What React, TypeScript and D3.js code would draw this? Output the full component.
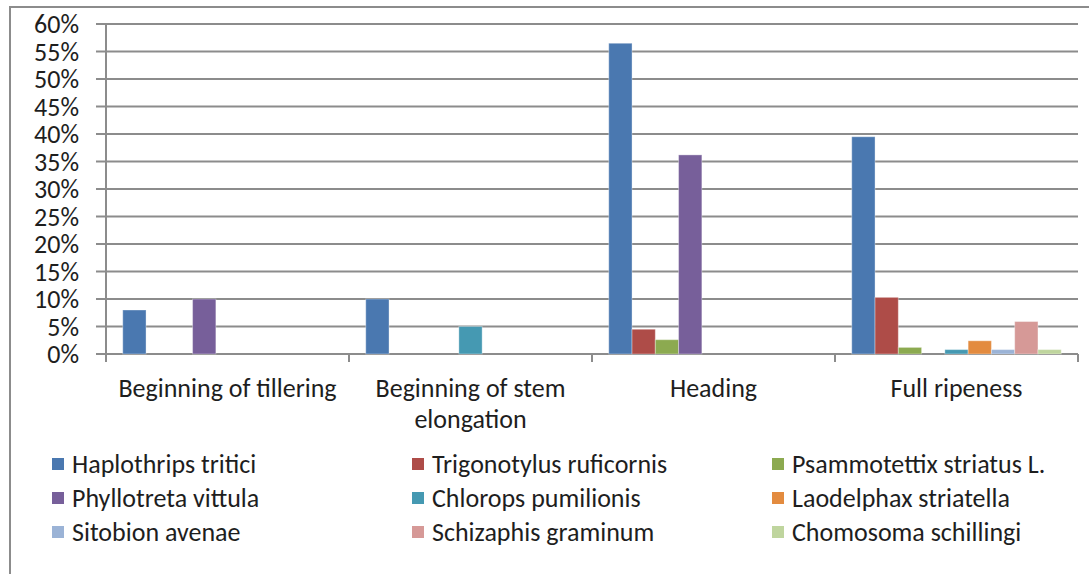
import React from "react";
import * as d3 from "d3";

// Growth stages (x categories)
const stages: string[][] = [
  ["Beginning of tillering"],
  ["Beginning of stem", "elongation"],
  ["Heading"],
  ["Full ripeness"],
];

// Species names and shares (%) per stage
const species: string[] = [
  "Haplothrips tritici",
  "Trigonotylus ruficornis",
  "Psammotettix striatus L.",
  "Phyllotreta vittula",
  "Chlorops pumilionis",
  "Laodelphax striatella",
  "Sitobion avenae",
  "Schizaphis graminum",
  "Chomosoma schillingi",
];

const haplothrips = [8, 10, 56.5, 39.5];
const trigonotylus = [0, 0, 4.5, 10.3];
const psammotettix = [0, 0, 2.6, 1.2];
const phyllotreta = [10, 0, 36.2, 0];
const chlorops = [0, 5, 0, 0.8];
const laodelphax = [0, 0, 0, 2.4];
const sitobion = [0, 0, 0, 0.8];
const schizaphis = [0, 0, 0, 5.9];
const chomosoma = [0, 0, 0, 0.8];

const seriesValues: number[][] = [
  haplothrips,
  trigonotylus,
  psammotettix,
  phyllotreta,
  chlorops,
  laodelphax,
  sitobion,
  schizaphis,
  chomosoma,
];

const yTicks = [0, 5, 10, 15, 20, 25, 30, 35, 40, 45, 50, 55, 60];

const colors = [
  "#4a78b0",
  "#ae4c48",
  "#8caa50",
  "#775f9a",
  "#4599b2",
  "#e38b3f",
  "#9bb3d6",
  "#d69997",
  "#bfd59e",
];

const W = 1089;
const H = 574;
const FONT = "Carlito, Calibri, 'Open Sans', sans-serif";
const FS = 26;
const TEXT = "#1e1e1e";
const GRID = "#8c8c8c";

export default function App() {
  const left = 106;
  const right = 1078;
  const top = 24;
  const bottom = 354;

  const stageKeys = stages.map((s) => s.join(" "));
  const x = d3.scaleBand<string>().domain(stageKeys).range([left, right]).padding(0);
  const xInner = d3
    .scaleBand<string>()
    .domain(species)
    .range([0, x.bandwidth()])
    .paddingInner(0)
    .paddingOuter(0.72);
  const y = d3.scaleLinear().domain([0, 60]).range([bottom, top]);

  const legendCols = [52, 412, 772];
  const legendRows = [464, 498, 532];

  return (
    <div style={{ position: "fixed", left: 0, top: 0 }}>
      <svg width={W} height={H} style={{ display: "block", background: "#fff" }}>
        {/* chart frame */}
        <rect x={10} y={7} width={W} height={H} fill="none" stroke={GRID} strokeWidth={2} />

        {/* gridlines and y ticks */}
        {yTicks.map((t) => (
          <g key={t}>
            <line x1={left - 10} x2={right} y1={y(t)} y2={y(t)} stroke={GRID} strokeWidth={2} />
            <text
              x={79}
              y={y(t)}
              dy="0.35em"
              textAnchor="end"
              fontFamily={FONT}
              fontSize={FS}
              fill={TEXT}
            >
              {t}%
            </text>
          </g>
        ))}

        {/* y axis line */}
        <line x1={left} x2={left} y1={top} y2={bottom + 8} stroke={GRID} strokeWidth={2} />

        {/* category ticks */}
        {stageKeys.map((k) => (
          <line
            key={k}
            x1={(x(k) ?? 0) + x.bandwidth()}
            x2={(x(k) ?? 0) + x.bandwidth()}
            y1={bottom}
            y2={bottom + 8}
            stroke={GRID}
            strokeWidth={2}
          />
        ))}

        {/* bars */}
        {seriesValues.map((vals, si) =>
          vals.map((v, ci) =>
            v > 0 ? (
              <rect
                key={`${si}-${ci}`}
                x={(x(stageKeys[ci]) ?? 0) + (xInner(species[si]) ?? 0)}
                y={y(v)}
                width={xInner.bandwidth()}
                height={y(0) - y(v)}
                fill={colors[si]}
                stroke="#ffffff"
                strokeOpacity={0.35}
                strokeWidth={1}
              />
            ) : null
          )
        )}

        {/* category labels */}
        {stages.map((lines, ci) => (
          <text
            key={ci}
            x={(x(stageKeys[ci]) ?? 0) + x.bandwidth() / 2}
            y={397}
            textAnchor="middle"
            fontFamily={FONT}
            fontSize={FS}
            fill={TEXT}
          >
            {lines.map((ln, li) => (
              <tspan key={li} x={(x(stageKeys[ci]) ?? 0) + x.bandwidth() / 2} dy={li === 0 ? 0 : 31}>
                {ln}
              </tspan>
            ))}
          </text>
        ))}

        {/* legend */}
        {species.map((name, i) => {
          const cx = legendCols[i % 3];
          const cy = legendRows[Math.floor(i / 3)];
          return (
            <g key={name}>
              <rect x={cx} y={cy - 6} width={12} height={12} fill={colors[i]} />
              <text x={cx + 20} y={cy} dy="0.35em" fontFamily={FONT} fontSize={FS} fill={TEXT}>
                {name}
              </text>
            </g>
          );
        })}
      </svg>
    </div>
  );
}
